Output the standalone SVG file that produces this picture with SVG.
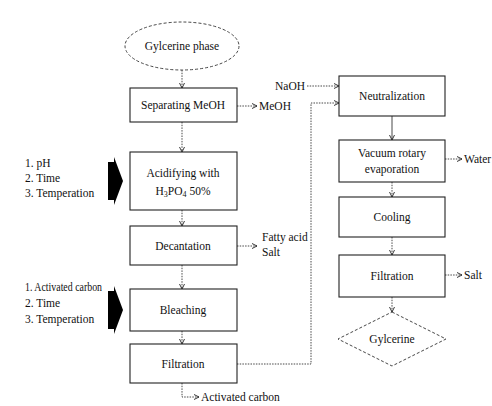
<svg xmlns="http://www.w3.org/2000/svg" width="492" height="406" viewBox="0 0 492 406">
<defs>
<marker id="ah" markerWidth="6" markerHeight="6" refX="5" refY="3" orient="auto" markerUnits="userSpaceOnUse">
<path d="M0,0.5 L5,3 L0,5.5" fill="none" stroke="#222" stroke-width="0.9"/>
</marker>
</defs>
<style>
text{font-family:'Liberation Serif','Times New Roman',serif;font-size:11.5px;fill:#111}
.c{text-anchor:middle}
.box{fill:#fff;stroke:#222;stroke-width:1.1}
.dash{fill:#fff;stroke:#333;stroke-width:0.9;stroke-dasharray:3,2}
.con{fill:none;stroke:#333;stroke-width:0.9;stroke-dasharray:1.5,1.2;marker-end:url(#ah)}
.big{fill:#000}
</style>
<rect width="492" height="406" fill="#fff"/>
<g id="connectors">
<path class="con" d="M182,70 V88"/>
<path class="con" d="M237,106 H257"/>
<path class="con" d="M182,122 V152"/>
<path class="con" d="M182,210 V226"/>
<path class="con" d="M237,246 H257"/>
<path class="con" d="M182,265 V289"/>
<path class="con" d="M182,331 V344"/>
<path class="con" d="M182,383 V397 H199"/>
<path class="con" d="M237,364 H311 V103 H339"/>
<path class="con" d="M307,86 H339"/>
<path class="con" d="M392,116 V140" style="stroke-dasharray:none"/>
<path class="con" d="M445,159 H462"/>
<path class="con" d="M392,182 V197"/>
<path class="con" d="M392,237 V255"/>
<path class="con" d="M445,275 H462"/>
<path class="con" d="M392,297 V312"/>
</g>
<g id="gylcerine-phase">
<ellipse class="dash" cx="182" cy="46" rx="57" ry="24"/>
<text class="c" x="182" y="50">Gylcerine phase</text>
</g>
<g id="separating">
<rect class="box" x="130" y="88" width="107" height="34"/>
<text class="c" x="183" y="109">Separating MeOH</text>
</g>
<text x="259" y="110">MeOH</text>
<g id="acidifying">
<rect class="box" x="130" y="152" width="107" height="58"/>
<text class="c" x="183" y="177">Acidifying with</text>
<text class="c" x="183" y="195">H<tspan font-size="8" dy="2">3</tspan><tspan dy="-2">PO</tspan><tspan font-size="8" dy="2">4</tspan><tspan dy="-2"> 50%</tspan></text>
</g>
<g id="acid-params">
<polygon class="big" points="108,162 114,162 114,157 123,181 114,205 114,200 108,200"/>
<text x="25" y="167">1. pH</text>
<text x="25" y="182">2. Time</text>
<text x="25" y="197">3. Temperation</text>
</g>
<g id="decantation">
<rect class="box" x="130" y="226" width="107" height="39"/>
<text class="c" x="183" y="250">Decantation</text>
</g>
<text x="262" y="241">Fatty acid</text>
<text x="262" y="256">Salt</text>
<g id="bleaching">
<rect class="box" x="130" y="289" width="107" height="42"/>
<text class="c" x="183" y="314">Bleaching</text>
</g>
<g id="bleach-params">
<polygon class="big" points="108,291 114,291 114,286 123,310 114,334 114,329 108,329"/>
<text x="25" y="291" textLength="77" lengthAdjust="spacingAndGlyphs">1. Activated carbon</text>
<text x="25" y="307">2. Time</text>
<text x="25" y="323">3. Temperation</text>
</g>
<g id="filtration1">
<rect class="box" x="130" y="344" width="107" height="39"/>
<text class="c" x="183" y="368">Filtration</text>
</g>
<text x="201" y="401">Activated carbon</text>
<text x="275" y="90">NaOH</text>
<g id="neutralization">
<rect class="box" x="339" y="76" width="106" height="40"/>
<text class="c" x="392" y="100">Neutralization</text>
</g>
<g id="vacuum">
<rect class="box" x="339" y="140" width="106" height="42"/>
<text class="c" x="392" y="157">Vacuum rotary</text>
<text class="c" x="392" y="173">evaporation</text>
</g>
<text x="464" y="163">Water</text>
<g id="cooling">
<rect class="box" x="339" y="197" width="106" height="40"/>
<text class="c" x="392" y="221">Cooling</text>
</g>
<g id="filtration2">
<rect class="box" x="339" y="255" width="106" height="42"/>
<text class="c" x="392" y="280">Filtration</text>
</g>
<text x="464" y="279">Salt</text>
<g id="gylcerine">
<polygon class="dash" points="392,312 446,339 392,366 338,339"/>
<text class="c" x="392" y="343">Gylcerine</text>
</g>
</svg>
